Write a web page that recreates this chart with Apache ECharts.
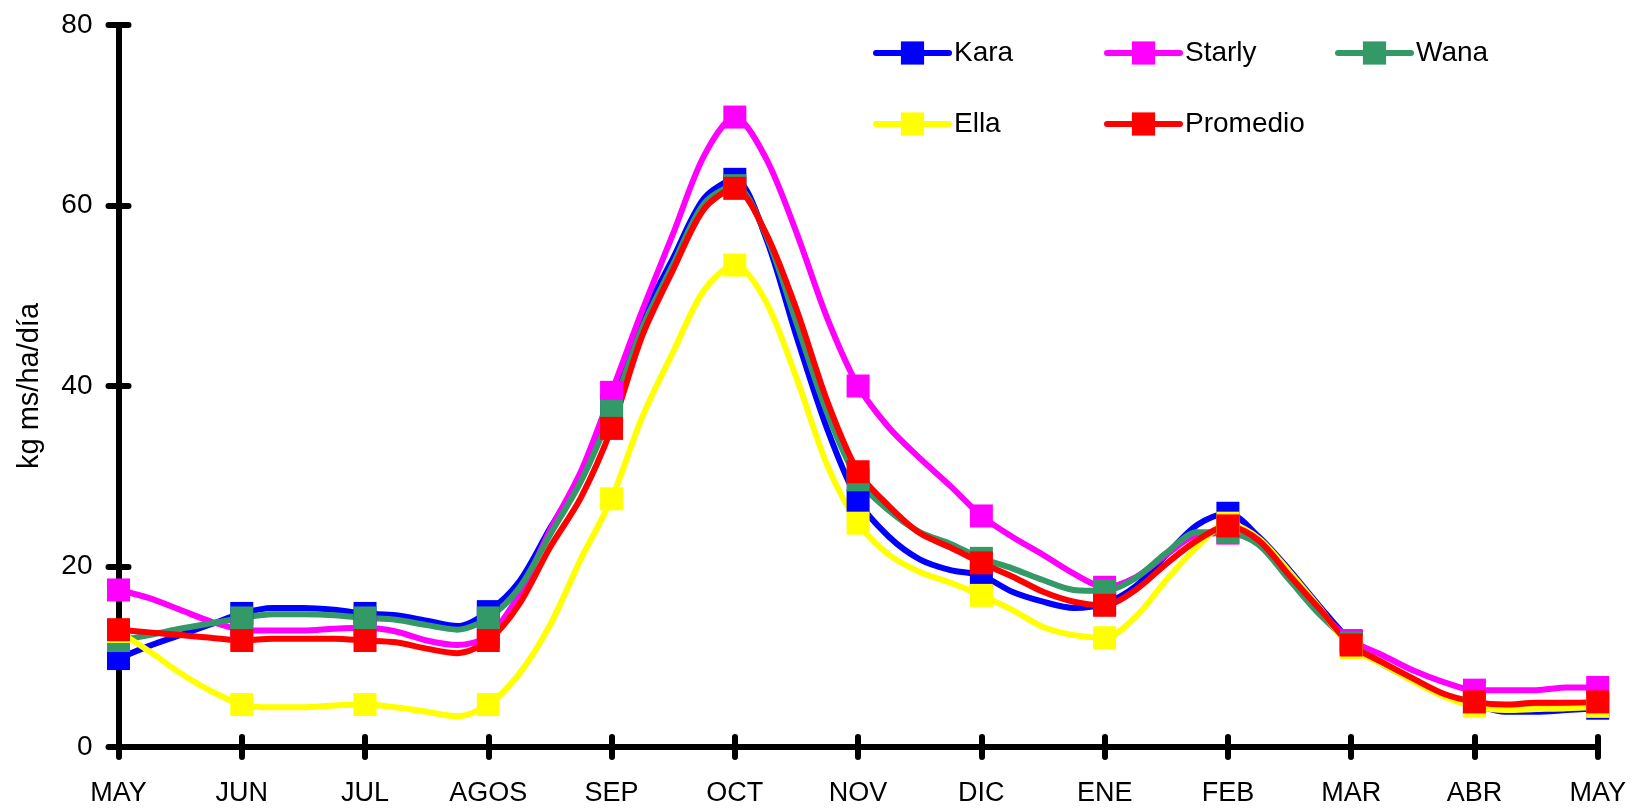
<!DOCTYPE html>
<html>
<head>
<meta charset="utf-8">
<script src="https://cdn.jsdelivr.net/npm/echarts@6/dist/echarts.min.js"></script>
<style>
html,body{margin:0;padding:0;background:#fff;}
#chart{width:1639px;height:812px;}
</style>
</head>
<body>
<div id="chart"></div>
<script>
// Month tick labels (every 4th weekly point carries a month marker)
const MONTHS = ['MAY','JUN','JUL','AGOS','SEP','OCT','NOV','DIC','ENE','FEB','MAR','ABR','MAY'];
const Y_TICKS = [0, 20, 40, 60, 80];
const Y_NAME = 'kg ms/ha/día';

const KARA = [9.8,11.2,12.4,13.6, 14.8,15.4,15.4,15.2, 14.8,14.6,14.0,13.4, 15.0,18.3,24.2,30.0, 37.8,47.4,54.2,60.8, 62.9,56.5,45.5,35.2, 27.3,23.3,20.8,19.6, 19.0,17.2,16.1,15.4, 15.9,17.8,21.3,24.6, 25.9,23.3,19.6,15.5, 11.7,9.3,7.4,5.7, 4.7,3.9,3.9,4.1, 4.3];
const STARLY = [17.4,16.5,15.2,13.9, 13.0,12.9,12.9,13.1, 13.2,12.8,11.8,11.3, 12.3,16.9,24.0,30.5, 39.3,48.4,56.9,65.5, 69.8,65.3,57.0,47.5, 40.0,35.4,32.0,28.9, 25.6,23.3,21.3,19.2, 17.7,18.8,21.3,23.5, 23.7,22.5,18.6,15.0, 11.8,10.2,8.5,7.2, 6.3,6.3,6.3,6.6, 6.6];
const WANA = [11.8,12.4,13.1,13.7, 14.3,14.7,14.7,14.6, 14.3,14.1,13.5,13.0, 14.3,17.6,23.5,29.4, 37.2,46.5,53.5,60.2, 62.2,56.8,47.0,37.0, 29.6,26.2,23.8,22.5, 20.9,19.8,18.5,17.4, 17.3,18.7,21.5,23.8, 23.8,22.4,18.5,14.6, 11.5,9.2,7.4,5.8, 4.8,4.2,4.3,4.4, 4.6];
const ELLA = [12.8,10.6,8.2,6.2, 4.7,4.4,4.4,4.6, 4.7,4.4,3.9,3.4, 4.7,8.1,13.5,20.8, 27.5,36.6,43.8,50.6, 53.4,49.4,40.9,31.2, 24.8,21.3,19.4,18.2, 16.8,15.2,13.3,12.4, 12.1,14.4,18.5,22.2, 24.8,23.1,19.4,15.3, 11.0,9.2,7.3,5.6, 4.5,4.1,4.2,4.3, 4.5];
const PROMEDIO = [13.0,12.7,12.4,12.1, 11.8,12.0,12.0,12.0, 11.8,11.6,10.9,10.4, 11.8,15.8,22.1,27.6, 35.3,45.6,52.9,59.6, 61.9,57.0,48.5,38.3, 30.5,26.7,23.7,22.1, 20.4,18.9,17.2,16.1, 15.7,17.4,20.3,22.9, 24.5,22.9,19.0,15.2, 11.3,9.4,7.6,5.9, 5.0,4.7,4.9,4.9, 5.0];

const SERIES = [
  {name: 'Kara', data: KARA, color: '#0000FF'},
  {name: 'Starly', data: STARLY, color: '#FF00FF'},
  {name: 'Wana', data: WANA, color: '#339966'},
  {name: 'Ella', data: ELLA, color: '#FFFF00'},
  {name: 'Promedio', data: PROMEDIO, color: '#FF0000'}
];

const STEP = 4;
const N = (MONTHS.length - 1) * STEP + 1;
const CATS = Array.from({length: N}, (_, i) => String(i));
const FONT = "'Liberation Sans', Arial, sans-serif";
const LINE_W = 6;

const chart = echarts.init(document.getElementById('chart'), null, {renderer: 'canvas'});

const tickStyle = {color: '#000', width: 6, cap: 'round'};

const legendBase = {
  orient: 'vertical',
  top: 34,
  itemWidth: 73,
  itemHeight: 29,
  itemGap: 43,
  selectedMode: false,
  lineStyle: {width: LINE_W, cap: 'round'},
  textStyle: {fontFamily: FONT, fontSize: 28, color: '#000'}
};

const option = {
  backgroundColor: '#fff',
  animation: false,
  grid: {left: 118.5, right: 41.3, top: 25, bottom: 65, containLabel: false, outerBoundsMode: 'none'},
  legend: [
    Object.assign({}, legendBase, {left: 868, data: ['Kara', 'Ella']}),
    Object.assign({}, legendBase, {left: 1099, data: ['Starly', 'Promedio']}),
    Object.assign({}, legendBase, {left: 1330, data: ['Wana']})
  ],
  xAxis: [
    {
      type: 'category', data: CATS, boundaryGap: false, position: 'bottom',
      axisLine: {show: true, lineStyle: {color: '#000', width: 6, cap: 'round'}},
      axisTick: {show: true, interval: STEP - 1, length: 10, inside: false, lineStyle: tickStyle},
      axisLabel: {
        interval: STEP - 1, margin: 33, color: '#000', fontFamily: FONT, fontSize: 27,
        formatter: (v, i) => (i % STEP === 0 ? MONTHS[i / STEP] : '')
      },
      splitLine: {show: false}
    },
    {
      type: 'category', data: CATS, boundaryGap: false, position: 'bottom',
      axisLine: {show: false},
      axisTick: {show: true, interval: STEP - 1, length: 10, inside: true, lineStyle: tickStyle},
      axisLabel: {show: false},
      splitLine: {show: false}
    }
  ],
  yAxis: [
    {
      type: 'value', min: Y_TICKS[0], max: Y_TICKS[Y_TICKS.length - 1], interval: Y_TICKS[1] - Y_TICKS[0],
      position: 'left',
      name: Y_NAME, nameLocation: 'middle', nameGap: 74, nameRotate: 90,
      nameTextStyle: {fontFamily: FONT, fontSize: 29, color: '#000'},
      axisLine: {show: true, lineStyle: {color: '#000', width: 6, cap: 'round'}},
      axisTick: {show: true, length: 10, inside: false, lineStyle: tickStyle},
      axisLabel: {margin: 26, color: '#000', fontFamily: FONT, fontSize: 28},
      splitLine: {show: false}
    },
    {
      type: 'value', min: Y_TICKS[0], max: Y_TICKS[Y_TICKS.length - 1], interval: Y_TICKS[1] - Y_TICKS[0],
      position: 'left',
      axisLine: {show: false},
      axisTick: {show: true, length: 10, inside: true, lineStyle: tickStyle},
      axisLabel: {show: false},
      splitLine: {show: false}
    }
  ],
  series: SERIES.map(s => ({
    name: s.name,
    type: 'line',
    xAxisIndex: 0,
    yAxisIndex: 0,
    smooth: 0.3,
    symbol: 'rect',
    symbolSize: 23,
    color: s.color,
    itemStyle: {color: s.color},
    lineStyle: {color: s.color, width: LINE_W, cap: 'round', join: 'round'},
    emphasis: {disabled: true},
    data: s.data.map((v, i) => (i % STEP === 0 ? v : {value: v, symbol: 'none'}))
  }))
};

chart.setOption(option);
</script>
</body>
</html>
